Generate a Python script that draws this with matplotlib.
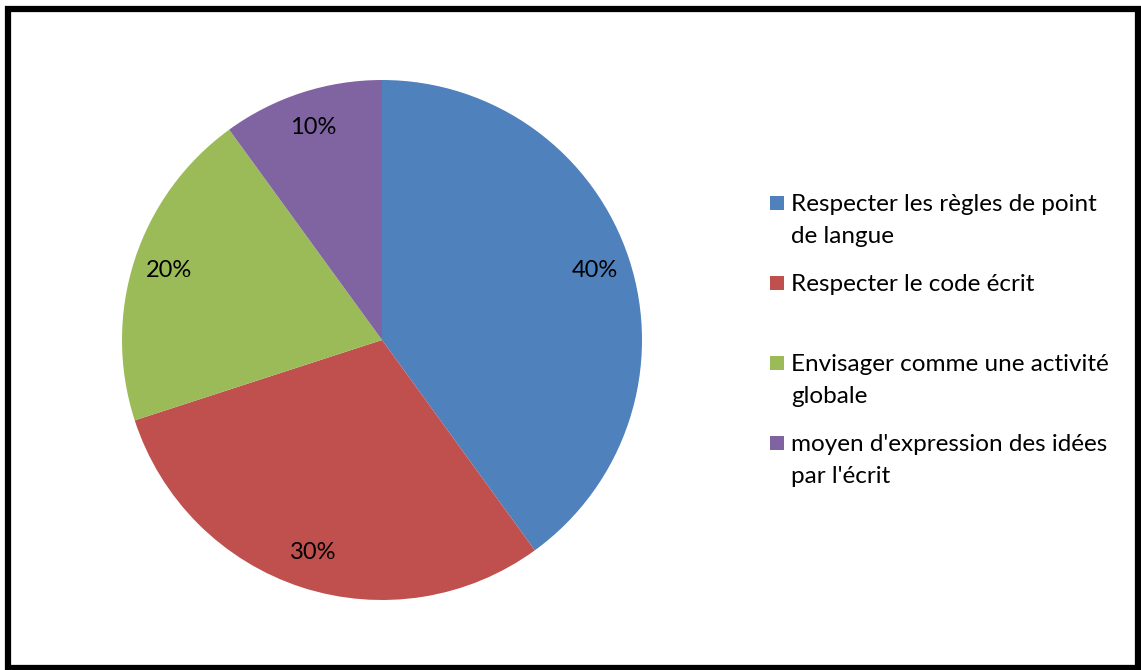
import matplotlib.pyplot as plt
from matplotlib.patches import Rectangle

### data
labels = ["Respecter les règles de point\nde langue",
          "Respecter le code écrit",
          "Envisager comme une activité\nglobale",
          "moyen d'expression des idées\npar l'écrit"]
values = [40, 30, 20, 10]
colors = ['#4F81BD', '#C0504D', '#9BBB59', '#8064A2']

plt.rcParams['font.family'] = ['Lato', 'DejaVu Sans']

W, H = 1141, 670
fig = plt.figure(figsize=(W / 100, H / 100), dpi=100)

# pie: centre (382, 340), radius 260 px
ax = fig.add_axes([(382 - 260) / W, (H - 600) / H, 520 / W, 520 / H])
wedges, texts, autotexts = ax.pie(values, colors=colors, startangle=90, counterclock=False,
                                  autopct='%1.0f%%', pctdistance=0.86, radius=1.0,
                                  wedgeprops={'linewidth': 0},
                                  textprops={'fontsize': 17, 'color': 'black'})
ax.set_xlim(-1, 1)
ax.set_ylim(-1, 1)
ax.set_aspect('equal')
ax.axis('off')

# legend drawn by hand so entries are evenly spaced like the Excel one
y0 = 203
for i, (lab, col) in enumerate(zip(labels, colors)):
    y = y0 + i * 80
    fig.add_artist(Rectangle((770 / W, 1 - (y + 7) / H), 14 / W, 14 / H,
                             transform=fig.transFigure, color=col, linewidth=0))
    fig.text(791 / W, 1 - (y - 9) / H, lab, fontsize=17.5, va='top', ha='left',
             linespacing=1.62)

# frame around the whole chart
fig.add_artist(Rectangle((8 / W, 1 - 668 / H), 1130 / W, 659 / H, transform=fig.transFigure,
                         fill=False, edgecolor='black', linewidth=4.5))

fig.savefig('out.png', dpi=100)
